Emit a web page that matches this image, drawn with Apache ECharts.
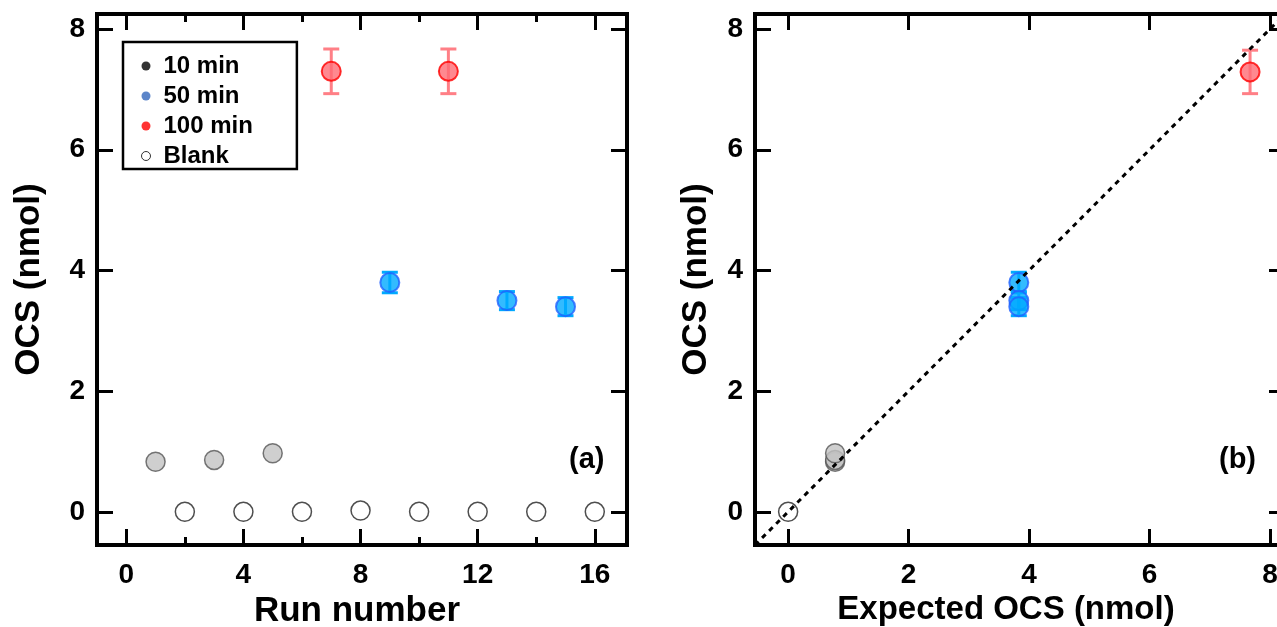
<!DOCTYPE html>
<html><head><meta charset="utf-8">
<script src="https://cdn.jsdelivr.net/npm/echarts@6/dist/echarts.min.js"></script>
<style>html,body{margin:0;padding:0;background:#fff}#c{width:1277px;height:627px}</style>
</head><body><div id="c"></div>
<script>
// ---- data ----
const runs10 = [1, 3, 5];
const ocs10 = [0.83, 0.86, 0.97];
const runs50 = [9, 13, 15];
const ocs50 = [3.80, 3.50, 3.40];
const err50 = [0.17, 0.15, 0.15];
const runs100 = [7, 11];
const ocs100 = [7.30, 7.30];
const err100 = [0.37, 0.37];
const runsBlank = [2, 4, 6, 8, 10, 12, 14, 16];
const ocsBlank = [0.0, 0.0, 0.0, 0.02, 0.0, 0.0, 0.0, 0.0];
const exp10 = [0.78, 0.78, 0.78];
const exp50 = [3.83, 3.83, 3.83];
const exp100 = [7.67];
const ocs100b = [7.29];
const err100b = [0.36];
const expBlank = [0];
const ocsBlankB = [0];
const oneToOne = [-0.55, 8.25];
const runTicks = [0, 4, 8, 12, 16];
const runMinor = [2, 6, 10, 14];
const ocsTicks = [0, 2, 4, 6, 8];
const expTicks = [0, 2, 4, 6, 8];

const FONT = 'Liberation Sans, Arial, sans-serif';
const zip = (a, b, c) => a.map((v, i) => c ? [v, b[i], c[i]] : [v, b[i]]);

const tickStyle = { color: '#000', width: 3 };
const labStyle = { fontFamily: FONT, fontWeight: 'bold', fontSize: 28, color: '#000' };
function nameStyle(size, pad) {
  return { fontFamily: FONT, fontWeight: 'bold', fontSize: size, color: '#000', padding: pad || 0 };
}
function xAx(grid, pos, min, max, ticks, opts) {
  opts = opts || {};
  return {
    type: 'value', gridIndex: grid, position: pos, min: min, max: max,
    axisLine: { show: false, onZero: false },
    axisTick: { show: true, inside: true, length: opts.len || 16, lineStyle: tickStyle, customValues: ticks },
    axisLabel: Object.assign({ show: !!opts.label, customValues: ticks, margin: 16 }, labStyle),
    splitLine: { show: false },
    name: opts.name || '', nameLocation: 'middle', nameGap: opts.nameGap || 50,
    nameTextStyle: nameStyle(opts.size || 35, opts.pad)
  };
}
function yAx(grid, pos, opts) {
  opts = opts || {};
  return {
    type: 'value', gridIndex: grid, position: pos, min: -0.55, max: 8.25,
    axisLine: { show: false, onZero: false },
    axisTick: { show: true, inside: true, length: 16, lineStyle: tickStyle, customValues: ocsTicks },
    axisLabel: Object.assign({ show: !!opts.label, customValues: ocsTicks, margin: 12 }, labStyle),
    splitLine: { show: false },
    name: opts.name || '', nameLocation: 'middle', nameGap: opts.nameGap || 50,
    nameTextStyle: nameStyle(35)
  };
}

const sty = {
  '10 min': { color: '#c3c3c3', borderColor: '#555', borderWidth: 1.5 },
  '50 min': { color: '#00aaff', borderColor: '#2060ff', borderWidth: 2 },
  '100 min': { color: '#ff6b74', borderColor: '#ff0000', borderWidth: 2 },
  'Blank': { color: '#ffffff', borderColor: '#222', borderWidth: 1.5 }
};
function sc(name, data, xi, yi) {
  return { name: name, type: 'scatter', xAxisIndex: xi, yAxisIndex: yi, data: data, symbolSize: 19,
    itemStyle: sty[name], z: 5, silent: true };
}
function eb(data, color, xi, yi) {
  return { type: 'custom', xAxisIndex: xi, yAxisIndex: yi, data: data, z: 4, silent: true,
    renderItem: function (params, api) {
      const x = api.value(0), y = api.value(1), e = api.value(2);
      const t = api.coord([x, y + e]), b = api.coord([x, y - e]);
      const w = 8;
      const ls = { stroke: color, lineWidth: 3 };
      return { type: 'group', children: [
        { type: 'line', shape: { x1: t[0], y1: t[1], x2: b[0], y2: b[1] }, style: ls },
        { type: 'line', shape: { x1: t[0] - w, y1: t[1], x2: t[0] + w, y2: t[1] }, style: ls },
        { type: 'line', shape: { x1: b[0] - w, y1: b[1], x2: b[0] + w, y2: b[1] }, style: ls }
      ] };
    } };
}

const chart = echarts.init(document.getElementById('c'), null, { renderer: 'canvas' });
chart.setOption({
  animation: false,
  backgroundColor: '#fff',
  grid: [
    { left: 97, top: 14, width: 530, height: 531, show: true, borderColor: '#000', borderWidth: 4,
      backgroundColor: 'transparent', containLabel: false, outerBoundsMode: 'none' },
    { left: 755, top: 14, width: 530, height: 531, show: true, borderColor: '#000', borderWidth: 4,
      backgroundColor: 'transparent', containLabel: false, outerBoundsMode: 'none' }
  ],
  xAxis: [
    xAx(0, 'bottom', -1, 17.1, runTicks, { label: true, name: 'Run number', nameGap: 40, size: 35, pad: [0, 10, 0, 0] }),
    xAx(0, 'top', -1, 17.1, runTicks),
    xAx(0, 'bottom', -1, 17.1, runMinor, { len: 8 }),
    xAx(0, 'top', -1, 17.1, runMinor, { len: 8 }),
    xAx(1, 'bottom', -0.55, 8.25, expTicks, { label: true, name: 'Expected OCS (nmol)', nameGap: 44, size: 33, pad: [0, 28, 0, 0] }),
    xAx(1, 'top', -0.55, 8.25, expTicks)
  ],
  yAxis: [
    yAx(0, 'left', { label: true, name: 'OCS (nmol)', nameGap: 50 }),
    yAx(0, 'right'),
    yAx(1, 'left', { label: true, name: 'OCS (nmol)', nameGap: 41 }),
    yAx(1, 'right')
  ],
  legend: {
    left: 123, top: 42, orient: 'vertical',
    borderColor: '#000', borderWidth: 2.5, borderRadius: 0,
    padding: [12, 44, 1, 18],
    itemWidth: 9, itemHeight: 9, itemGap: 6, icon: 'circle',
    textStyle: { fontFamily: FONT, fontWeight: 'bold', fontSize: 24, color: '#000', lineHeight: 24, padding: [0, 0, 0, 8] },
    selectedMode: false,
    data: [
      { name: '10 min', itemStyle: { color: '#000', borderWidth: 0 } },
      { name: '50 min', itemStyle: { color: '#3366bb', borderWidth: 0 } },
      { name: '100 min', itemStyle: { color: '#ff0000', borderWidth: 0 } },
      { name: 'Blank', itemStyle: { color: '#fff', borderColor: '#000', borderWidth: 1 } }
    ]
  },
  graphic: [
    { type: 'text', left: 569, top: 445, style: { text: '(a)', fontFamily: FONT, fontWeight: 'bold', fontSize: 29, fill: '#000' } },
    { type: 'text', left: 1219, top: 445, style: { text: '(b)', fontFamily: FONT, fontWeight: 'bold', fontSize: 29, fill: '#000' } }
  ],
  series: [
    sc('10 min', zip(runs10, ocs10), 0, 0),
    sc('Blank', zip(runsBlank, ocsBlank), 0, 0),
    eb(zip(runs50, ocs50, err50), '#00aaff', 0, 0),
    sc('50 min', zip(runs50, ocs50), 0, 0),
    eb(zip(runs100, ocs100, err100), '#ff7f86', 0, 0),
    sc('100 min', zip(runs100, ocs100), 0, 0),

    sc('Blank', zip(expBlank, ocsBlankB), 4, 2),
    sc('10 min', zip(exp10, ocs10), 4, 2),
    eb(zip(exp50, ocs50, err50), '#00aaff', 4, 2),
    sc('50 min', zip(exp50, ocs50), 4, 2),
    eb(zip(exp100, ocs100b, err100b), '#ff7f86', 4, 2),
    sc('100 min', zip(exp100, ocs100b), 4, 2),
    { type: 'line', xAxisIndex: 4, yAxisIndex: 2, data: zip(oneToOne, oneToOne), symbol: 'none', z: 8, silent: true,
      lineStyle: { color: '#000', width: 3, type: [5, 5] } }
  ]
});
</script></body></html>
